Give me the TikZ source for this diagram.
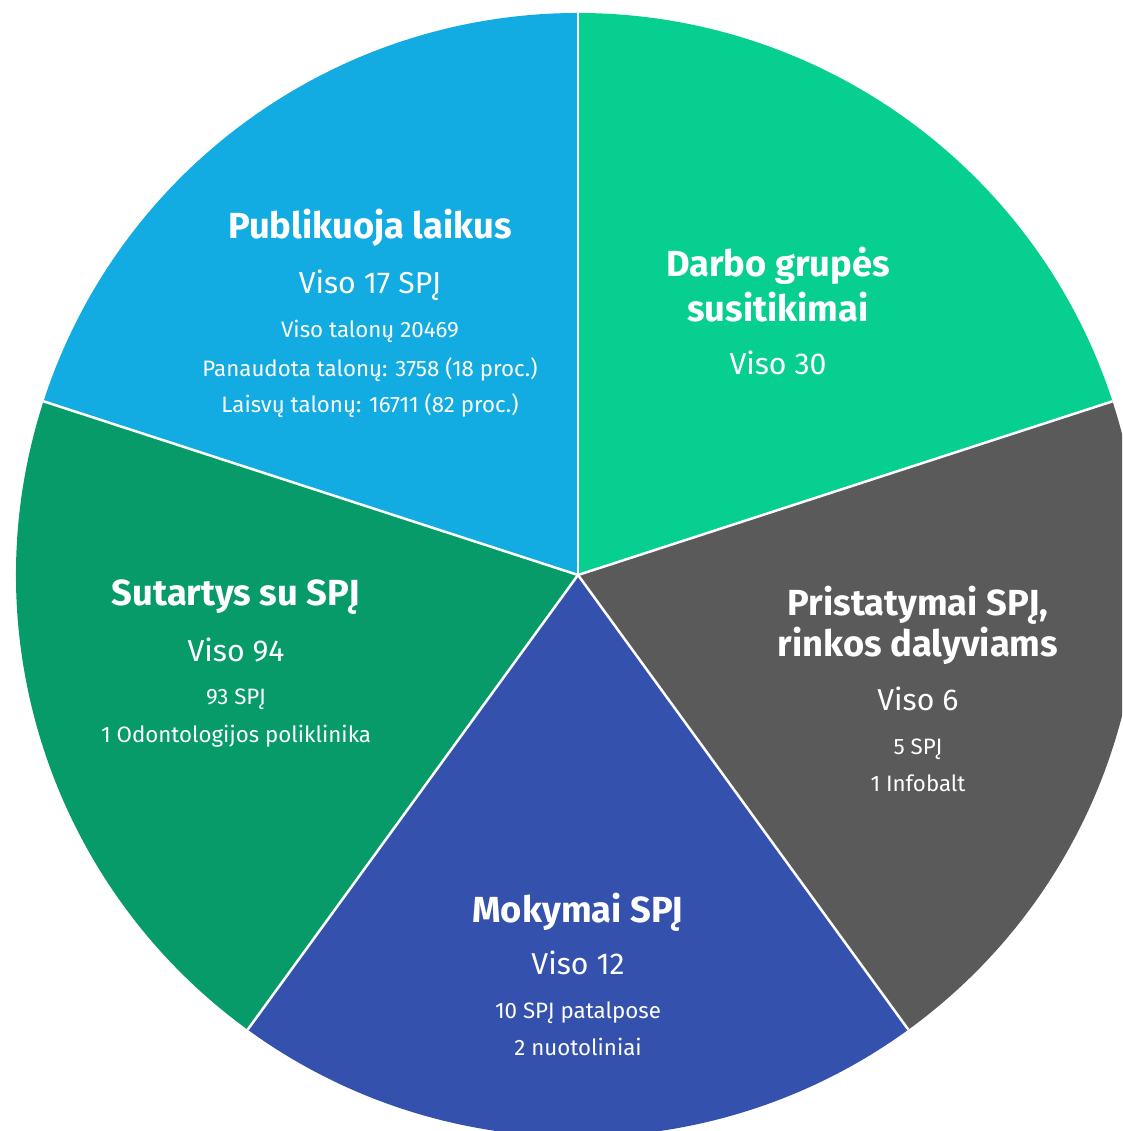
\documentclass[tikz,border=0pt]{standalone}
\usepackage{fontspec}
\setmainfont{Fira Sans}

\definecolor{darbo}{HTML}{07CF90}
\definecolor{pristat}{HTML}{5A5A5A}
\definecolor{mokymai}{HTML}{3451AE}
\definecolor{sutartys}{HTML}{069B69}
\definecolor{publik}{HTML}{12ABE2}

\tikzset{
  headtext/.style={text=white, anchor=base, inner sep=0pt, font=\fontsize{36.3}{42}\bfseries\selectfont},
  sumtext/.style={text=white, anchor=base, inner sep=0pt, font=\fontsize{30.2}{36}\selectfont},
  infotext/.style={text=white, anchor=base, inner sep=0pt, font=\fontsize{22.3}{26}\selectfont}
}

\begin{document}
\begin{tikzpicture}[x=1pt,y=1pt]
\useasboundingbox (0,0) rectangle (1122,1131);
\clip (0,0) rectangle (1122,1131);
\coordinate (o) at (578,556);
\fill[darbo] (o) -- ++(90:562) arc (90:18:562pt) -- cycle;
\fill[pristat] (o) -- ++(18:562) arc (18:-54:562pt) -- cycle;
\fill[mokymai] (o) -- ++(-54:562) arc (-54:-126:562pt) -- cycle;
\fill[sutartys] (o) -- ++(-126:562) arc (-126:-198:562pt) -- cycle;
\fill[publik] (o) -- ++(162:562) arc (162:90:562pt) -- cycle;
\foreach \a in {90,18,-54,-126,162}
  \draw[white, line width=2.5pt] (o) -- ++(\a:562);

\node[headtext] (pubhead) at (370,892) {Publikuoja laikus};
\node[sumtext] (pubsum) at (370,837) {Viso 17 SPĮ};
\node[infotext] (pubinfoa) at (370,793) {Viso talonų 20469};
\node[infotext] (pubinfob) at (370,754) {Panaudota talonų: 3758 (18 proc.)};
\node[infotext] (pubinfoc) at (370,718) {Laisvų talonų: 16711 (82 proc.)};

\node[headtext] (darbheada) at (778,854) {Darbo grupės};
\node[headtext] (darbheadb) at (778,809) {susitikimai};
\node[sumtext] (darbsum) at (778,756) {Viso 30};

\node[headtext] (prisheada) at (918,515) {Pristatymai SPĮ,};
\node[headtext] (prisheadb) at (918,474) {rinkos dalyviams};
\node[sumtext] (prissum) at (918,420) {Viso 6};
\node[infotext] (prisinfoa) at (918,376) {5 SPĮ};
\node[infotext] (prisinfob) at (918,339) {1 Infobalt};

\node[headtext] (suthead) at (236,525) {Sutartys su SPĮ};
\node[sumtext] (sutsum) at (236,469) {Viso 94};
\node[infotext] (sutinfoa) at (236,426) {93 SPĮ};
\node[infotext] (sutinfob) at (236,388) {1 Odontologijos poliklinika};

\node[headtext] (mokhead) at (578,208) {Mokymai SPĮ};
\node[sumtext] (moksum) at (578,156) {Viso 12};
\node[infotext] (mokinfoa) at (578,112) {10 SPĮ patalpose};
\node[infotext] (mokinfob) at (578,75) {2 nuotoliniai};
\end{tikzpicture}
\end{document}
